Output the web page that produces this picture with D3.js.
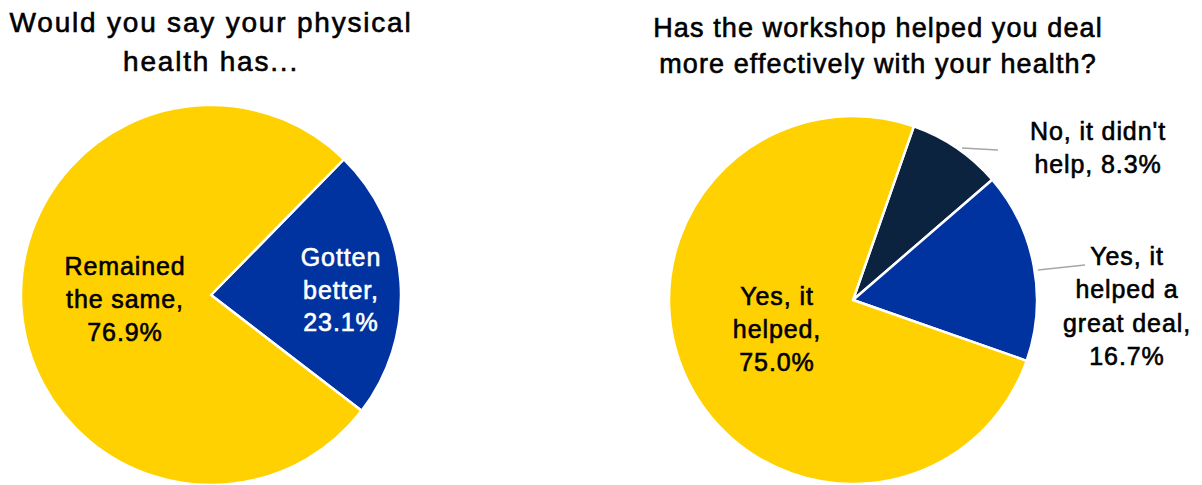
<!DOCTYPE html>
<html>
<head>
<meta charset="utf-8">
<script src="https://cdn.jsdelivr.net/npm/d3@7"></script>
<style>
  html, body { margin: 0; padding: 0; background: #fff; }
  svg { display: block; }
  text { font-family: "Liberation Sans", Arial, Helvetica, sans-serif; }
</style>
</head>
<body>
<svg id="chart" width="1202" height="485"></svg>
<script>
// Survey answers, in drawing order (clockwise)
const healthCategories = ["Gotten better", "Remained the same"];
const healthValues = [23.1, 76.9];
const healthLabelLines = [["Gotten", "better,", "23.1%"], ["Remained", "the same,", "76.9%"]];

const workshopCategories = ["No, it didn't help", "Yes, it helped a great deal", "Yes, it helped"];
const workshopValues = [8.3, 16.7, 75.0];
const workshopLabelLines = [["No, it didn't", "help, 8.3%"], ["Yes, it", "helped a", "great deal,", "16.7%"], ["Yes, it", "helped,", "75.0%"]];

const healthTitle = ["Would you say your physical", "health has..."];
const workshopTitle = ["Has the workshop helped you deal", "more effectively with your health?"];

const svg = d3.select("#chart");
const deg = Math.PI / 180;

// medium-weight text: regular face thickened with a thin same-colour outline
function weighted(sel, color) {
  return sel.style("fill", color).style("stroke", color).style("stroke-width", "0.6px");
}

function drawPie(cfg) {
  const g = svg.append("g").attr("transform", `translate(${cfg.cx},${cfg.cy})`);
  const pie = d3.pie().sort(null).value(d => d)
    .startAngle(cfg.start * deg).endAngle(cfg.start * deg + 2 * Math.PI);
  const arc = d3.arc().innerRadius(0).outerRadius(cfg.r);
  const color = d3.scaleOrdinal().domain(cfg.categories).range(cfg.colors);
  const arcs = pie(cfg.values);

  g.selectAll("path.slice").data(arcs).join("path")
    .attr("class", "slice")
    .attr("d", arc)
    .attr("fill", (d, i) => color(cfg.categories[i]))
    .attr("stroke", "#fff")
    .attr("stroke-width", 2.5)
    .attr("stroke-linejoin", "round");

  // leader lines for labels placed outside the pie
  cfg.leaders.forEach(l => {
    g.append("line")
      .attr("x1", l[0] - cfg.cx).attr("y1", l[1] - cfg.cy)
      .attr("x2", l[2] - cfg.cx).attr("y2", l[3] - cfg.cy)
      .attr("stroke", "#a6a6a6").attr("stroke-width", 1.3);
  });

  cfg.labels.forEach((lines, i) => {
    const p = cfg.labelPos[i];
    const t = svg.append("text")
      .attr("text-anchor", "middle")
      .style("font-size", "25px")
      .style("letter-spacing", "0.9px");
    weighted(t, cfg.labelColors[i]);
    lines.forEach((s, k) => {
      t.append("tspan").attr("x", p[0]).attr("y", p[1] + k * p[2]).text(s);
    });
  });

  const tt = svg.append("text").attr("text-anchor", "middle")
    .style("font-size", cfg.titleSize + "px")
    .style("letter-spacing", cfg.titleSpacing + "px");
  weighted(tt, "#000");
  cfg.title.forEach((s, k) => {
    tt.append("tspan").attr("x", cfg.titleX).attr("y", cfg.titleY[k]).text(s);
  });
}

drawPie({
  cx: 211, cy: 295, r: 190, start: 44.4,
  categories: healthCategories, values: healthValues,
  colors: ["#0033a0", "#ffd100"],
  labels: healthLabelLines,
  labelPos: [[341, 266, 32.5], [125, 275, 33]],
  labelColors: ["#fff", "#000"],
  leaders: [],
  title: healthTitle, titleX: 211, titleY: [32, 71], titleSize: 28, titleSpacing: 1.8
});

drawPie({
  cx: 853, cy: 300, r: 184, start: 19.3,
  categories: workshopCategories, values: workshopValues,
  colors: ["#0c2340", "#0033a0", "#ffd100"],
  labels: workshopLabelLines,
  labelPos: [[1098, 140, 32.5], [1127, 265, 33.3], [777, 305, 33]],
  labelColors: ["#000", "#000", "#000"],
  leaders: [[962, 148, 998, 150], [1038, 270, 1085, 265]],
  title: workshopTitle, titleX: 878, titleY: [37, 73], titleSize: 27, titleSpacing: 1.1
});
</script>
</body>
</html>
